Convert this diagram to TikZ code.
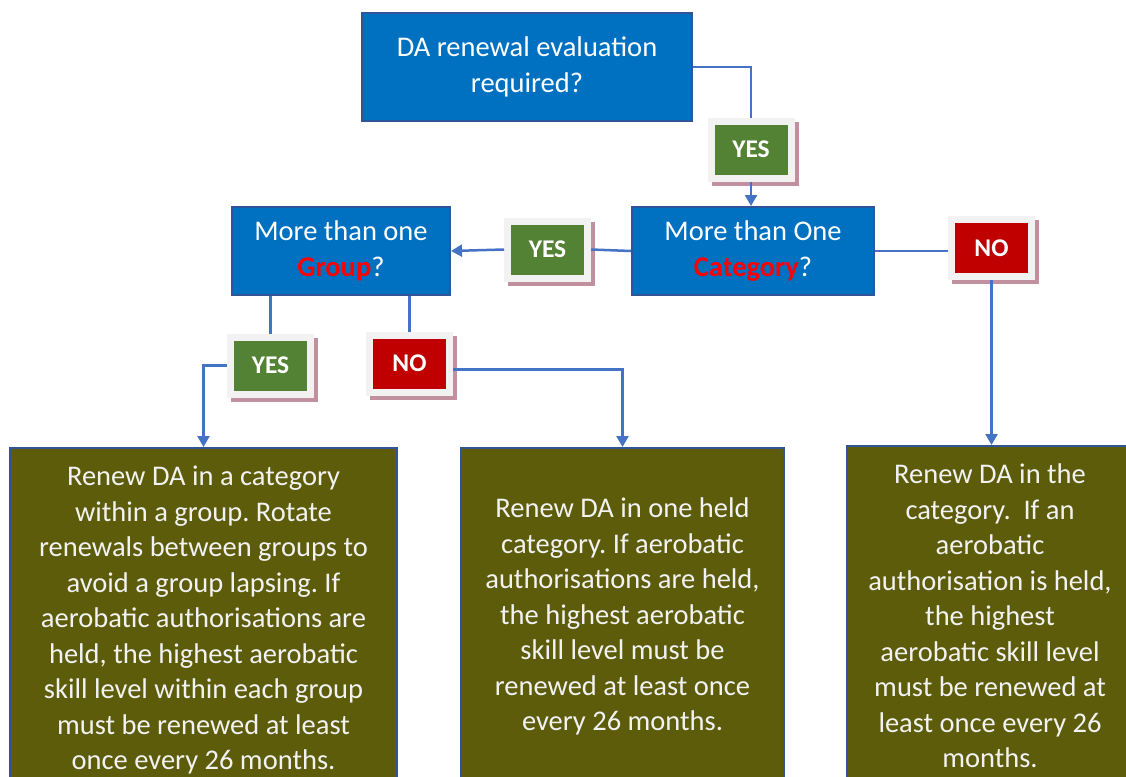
\documentclass[tikz,border=0pt]{standalone}
\usepackage{fontspec}
\setmainfont{Carlito}
\usetikzlibrary{arrows.meta,calc}
\definecolor{qblue}{HTML}{0070C0}
\definecolor{qborder}{HTML}{2F5597}
\definecolor{conn}{HTML}{4472C4}
\definecolor{ygreen}{HTML}{548235}
\definecolor{nred}{HTML}{C00000}
\definecolor{framegray}{HTML}{F2F2F2}
\definecolor{shad}{HTML}{C0909F}
\definecolor{boxolive}{HTML}{5C5C0B}
\definecolor{txt}{HTML}{F2F2F2}
\frenchspacing
\begin{document}
\begin{tikzpicture}[x=1pt,y=-1pt,
 question/.style={draw=qborder, line width=2pt, fill=qblue, text=white, align=center,
   font=\fontsize{28.5}{36}\selectfont, inner sep=0pt},
 action/.style={draw=qborder, line width=2pt, fill=boxolive, text=txt, align=center,
   font=\fontsize{28.5}{35.5}\selectfont, inner sep=0pt},
 lbl/.style={fill=#1, draw=framegray, line width=7pt, minimum width=80pt, minimum height=57pt,
   inner sep=0pt, text=white, font=\fontsize{25.5}{25.5}\selectfont\bfseries,
   preaction={draw=shad, line width=7pt, transform canvas={xshift=4pt,yshift=-4pt}}},
 link/.style={draw=conn, line width=2.5pt},
 arr/.style={link, -{Triangle[width=12pt,length=11pt]}}]
\useasboundingbox (0,0) rectangle (1126,776);

\node[question, minimum width=330, minimum height=107] (top) at (527,67) {DA renewal evaluation\\required?};
\node[question, minimum width=242, minimum height=88] (cat) at (753,251) {More than One\\{\color{red}\bfseries Category}?};
\node[question, minimum width=218, minimum height=88] (grp) at (341,251) {More than one\\{\color{red}\bfseries Group}?};

\node[lbl=ygreen] (yes1) at (751,149.5) {YES};
\node[lbl=ygreen] (yes2) at (547.5,249.5) {YES};
\node[lbl=nred] (no1) at (991.5,248) {NO};
\node[lbl=ygreen] (yes3) at (270.5,365.5) {YES};
\node[lbl=nred] (no2) at (409.5,363.5) {NO};

\node[action, minimum width=387, minimum height=344] (b1) at (203.5,620) {Renew DA in a category\\within a group. Rotate\\renewals between groups to\\avoid a group lapsing. If\\aerobatic authorisations are\\held, the highest aerobatic\\skill level within each group\\must be renewed at least\\once every 26 months.};
\node[action, minimum width=323, minimum height=337] (b2) at (622.5,616.5) {Renew DA in one held\\category. If aerobatic\\authorisations are held,\\the highest aerobatic\\skill level must be\\renewed at least once\\every 26 months.};
\node[action, minimum width=286, minimum height=340] (b3) at (990,616) {Renew DA in the\\category.\ \ If an\\aerobatic\\authorisation is held,\\the highest\\aerobatic skill level\\must be renewed at\\least once every 26\\months.};

\draw[link] (top.east) -| (yes1.north);
\draw[arr] (yes1.south) -- (yes1.south |- cat.north);
\draw[link] (cat.west) -- (yes2.east);
\draw[arr] (yes2.west) -- (grp.east);
\draw[link] (cat.east) -- (cat.east -| no1.west);
\draw[arr] (no1.south) -- (no1.south |- b3.north);
\draw[link] (grp.south -| yes3.north) -- (yes3.north);
\draw[arr] (yes3.west) -| (b1.north);
\draw[link] (grp.south -| no2.north) -- (no2.north);
\draw[arr] ($(no2.east)+(0,6)$) -| (b2.north);
\end{tikzpicture}
\end{document}
